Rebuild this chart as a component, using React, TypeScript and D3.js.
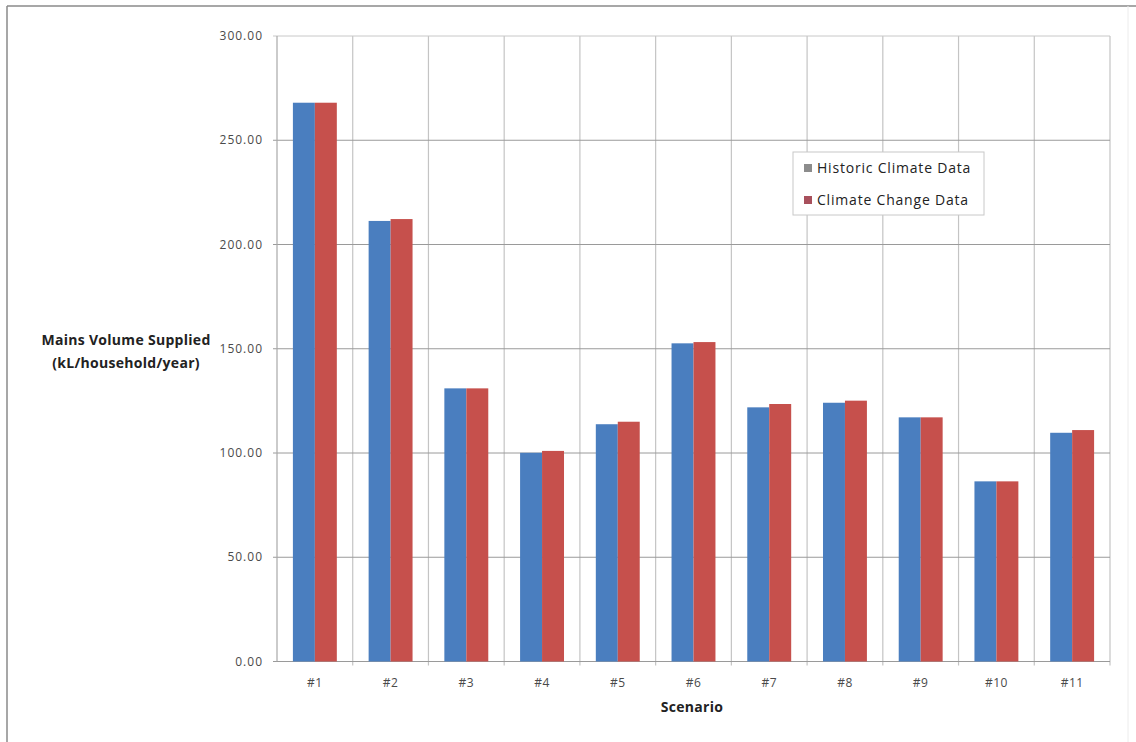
import React from "react";
import * as d3 from "d3";

const scenarios = ["#1", "#2", "#3", "#4", "#5", "#6", "#7", "#8", "#9", "#10", "#11"];
const historic = [268, 211.3, 131, 100.1, 113.8, 152.6, 121.9, 124.1, 117.1, 86.4, 109.7];
const climateChange = [268, 212.2, 131, 101, 115, 153.2, 123.5, 125.1, 117.1, 86.4, 111];
const seriesNames = ["Historic Climate Data", "Climate Change Data"];
const yTicks = [0, 50, 100, 150, 200, 250, 300];

const W = 1136;
const H = 742;
const plot = { left: 277, right: 1110, top: 36, bottom: 661.5 };
const barColors = ["#4a7ebf", "#c6504c"];
const legendSwatch = ["#8c8c8c", "#a8505c"];
const font = "'Open Sans', 'Liberation Sans', sans-serif";

export default function App() {
  const x = d3.scaleBand<string>().domain(scenarios).range([plot.left, plot.right]).padding(0);
  const y = d3.scaleLinear().domain([0, 300]).range([plot.bottom, plot.top]);
  const bw = x.bandwidth();
  const groupW = bw * 0.58;
  const xs = d3.scaleBand<string>().domain(seriesNames).range([0, groupW]).padding(0);
  const series = [historic, climateChange];

  return (
    <svg
      width={W}
      height={H}
      style={{ position: "absolute", left: 0, top: 0, background: "#fff" }}
    >
      {/* outer frame */}
      <line x1={7} x2={W} y1={6} y2={6} stroke="#8a8a8a" strokeWidth={1.5} />
      <line x1={7} x2={7} y1={6} y2={H} stroke="#8a8a8a" strokeWidth={1.5} />
      <line x1={1128} x2={1128} y1={6} y2={H} stroke="#ececec" strokeWidth={1} />

      {/* vertical gridlines at category boundaries */}
      {scenarios.map((s) => (
        <line
          key={"vg" + s}
          x1={x(s)! + bw}
          x2={x(s)! + bw}
          y1={plot.top}
          y2={plot.bottom + 4}
          stroke="#c4c4c4"
          strokeWidth={1.2}
        />
      ))}

      {/* horizontal gridlines */}
      {yTicks.map((t) => (
        <line
          key={"hg" + t}
          x1={plot.left - 4}
          x2={plot.right}
          y1={y(t)}
          y2={y(t)}
          stroke={t === 300 ? "#c8c8c8" : "#9a9a9a"}
          strokeWidth={1}
        />
      ))}

      {/* axis lines */}
      <line x1={plot.left} x2={plot.left} y1={plot.top} y2={plot.bottom} stroke="#a8a8a8" strokeWidth={1.2} />
      <line x1={plot.left} x2={plot.right} y1={plot.bottom} y2={plot.bottom} stroke="#9a9a9a" strokeWidth={1} />

      {/* bars */}
      {scenarios.map((s, i) => {
        const gx = x(s)! + (bw - groupW) / 2;
        return series.map((vals, k) => (
          <rect
            key={s + k}
            x={gx + xs(seriesNames[k])!}
            y={y(vals[i])}
            width={xs.bandwidth()}
            height={plot.bottom - y(vals[i])}
            fill={barColors[k]}
          />
        ));
      })}

      {/* y tick labels */}
      {yTicks.map((t) => (
        <text
          key={"yt" + t}
          x={263}
          y={y(t)}
          dy="0.35em"
          textAnchor="end"
          fontFamily={font}
          fontSize={12}
          letterSpacing={1}
          fill="#4a4a4a"
        >
          {t.toFixed(2)}
        </text>
      ))}

      {/* x tick labels */}
      {scenarios.map((s) => (
        <text
          key={"xt" + s}
          x={x(s)! + bw / 2}
          y={683}
          dy="0.35em"
          textAnchor="middle"
          fontFamily={font}
          fontSize={12}
          letterSpacing={0.5}
          fill="#4a4a4a"
        >
          {s}
        </text>
      ))}

      {/* axis titles */}
      <text x={126} y={340} dy="0.35em" textAnchor="middle" fontFamily={font} fontSize={14} letterSpacing={0.3} fontWeight="bold" fill="#222">
        Mains Volume Supplied
      </text>
      <text x={126} y={363} dy="0.35em" textAnchor="middle" fontFamily={font} fontSize={14} letterSpacing={0.3} fontWeight="bold" fill="#222">
        (kL/household/year)
      </text>
      <text x={692} y={707} dy="0.35em" textAnchor="middle" fontFamily={font} fontSize={14} letterSpacing={0.3} fontWeight="bold" fill="#222">
        Scenario
      </text>

      {/* legend */}
      <rect x={793} y={152} width={191} height={63} fill="#fff" stroke="#c8c8c8" strokeWidth={1} />
      {seriesNames.map((n, k) => (
        <g key={"lg" + n} transform={`translate(804, ${168 + k * 32})`}>
          <rect x={0} y={-4} width={8} height={8} fill={legendSwatch[k]} />
          <text x={13} y={0} dy="0.35em" fontFamily={font} fontSize={14} letterSpacing={0.8} fill="#222">
            {n}
          </text>
        </g>
      ))}
    </svg>
  );
}
